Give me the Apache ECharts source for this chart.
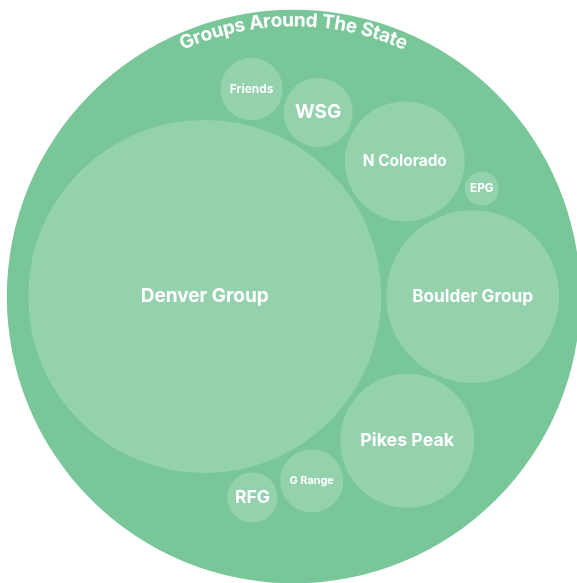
<!DOCTYPE html>
<html lang="en">
<head>
<meta charset="UTF-8">
<title>Groups Around The State</title>
<script src="https://cdn.jsdelivr.net/npm/echarts@6/dist/echarts.min.js"></script>
<style>
    * { margin: 0; padding: 0; }
    body { background: #fff; }
    #main { width: 577px; height: 583px; }
</style>
</head>
<body>
<div id="main"></div>
<script>
// data
var titleText = 'Groups Around The State';
var groupNames = ['Denver Group', 'Boulder Group', 'Pikes Peak', 'N Colorado', 'WSG', 'G Range', 'Friends', 'RFG', 'EPG'];
var groupValues = [1095, 262, 158, 126, 42, 35, 34, 22, 10];

// look
var FONT = 'Inter';
var OUTER_COLOR = '#79c799';
var INNER_COLOR = 'rgba(255,255,255,0.2)';
var CX = 293.6, CY = 296.5;       // centre of the big circle
var INNER_R = 265.4;              // enclosing radius of the groups
var OUTER_R = 286.8;              // radius of the big circle
var GAP = 5;                      // gap between group circles
var MAX_FONT = 19;
var TITLE_FONT = 19;
var TITLE_R = 276;
var TITLE_SPAN = 48.4 * Math.PI / 180;

var ctx = document.createElement('canvas').getContext('2d');
function textWidth(str, size) {
    ctx.font = 'bold ' + size + 'px ' + FONT;
    return ctx.measureText(str).width;
}

// ---- circle packing (front-chain, same as d3.pack) ----
function place(b, a, c) {
    var dx = b.x - a.x, dy = b.y - a.y, d2 = dx * dx + dy * dy, x, y, a2, b2;
    if (d2) {
        a2 = a.r + c.r; a2 *= a2;
        b2 = b.r + c.r; b2 *= b2;
        if (a2 > b2) {
            x = (d2 + b2 - a2) / (2 * d2);
            y = Math.sqrt(Math.max(0, b2 / d2 - x * x));
            c.x = b.x - x * dx - y * dy;
            c.y = b.y - x * dy + y * dx;
        } else {
            x = (d2 + a2 - b2) / (2 * d2);
            y = Math.sqrt(Math.max(0, a2 / d2 - x * x));
            c.x = a.x + x * dx - y * dy;
            c.y = a.y + x * dy + y * dx;
        }
    } else {
        c.x = a.x + c.r;
        c.y = a.y;
    }
}
function intersects(a, b) {
    var dr = a.r + b.r - 1e-6, dx = b.x - a.x, dy = b.y - a.y;
    return dr > 0 && dr * dr > dx * dx + dy * dy;
}
function score(node) {
    var a = node._, b = node.next._, ab = a.r + b.r,
        dx = (a.x * b.r + b.x * a.r) / ab,
        dy = (a.y * b.r + b.y * a.r) / ab;
    return dx * dx + dy * dy;
}
function Node(c) { this._ = c; this.next = null; this.previous = null; }

function enclosesNot(a, b) {
    var dr = a.r - b.r, dx = b.x - a.x, dy = b.y - a.y;
    return dr < 0 || dr * dr < dx * dx + dy * dy;
}
function enclosesWeak(a, b) {
    var dr = a.r - b.r + Math.max(a.r, b.r, 1) * 1e-9, dx = b.x - a.x, dy = b.y - a.y;
    return dr > 0 && dr * dr > dx * dx + dy * dy;
}
function enclosesWeakAll(a, B) {
    for (var i = 0; i < B.length; ++i) if (!enclosesWeak(a, B[i])) return false;
    return true;
}
function basis2(a, b) {
    var x21 = b.x - a.x, y21 = b.y - a.y, r21 = b.r - a.r, l = Math.sqrt(x21 * x21 + y21 * y21);
    return { x: (a.x + b.x + x21 / l * r21) / 2, y: (a.y + b.y + y21 / l * r21) / 2, r: (l + a.r + b.r) / 2 };
}
function basis3(a, b, c) {
    var x1 = a.x, y1 = a.y, r1 = a.r, x2 = b.x, y2 = b.y, r2 = b.r, x3 = c.x, y3 = c.y, r3 = c.r,
        a2 = x1 - x2, a3 = x1 - x3, b2 = y1 - y2, b3 = y1 - y3, c2 = r2 - r1, c3 = r3 - r1,
        d1 = x1 * x1 + y1 * y1 - r1 * r1,
        d2 = d1 - x2 * x2 - y2 * y2 + r2 * r2,
        d3 = d1 - x3 * x3 - y3 * y3 + r3 * r3,
        ab = a3 * b2 - a2 * b3,
        xa = (b2 * d3 - b3 * d2) / (ab * 2) - x1,
        xb = (b3 * c2 - b2 * c3) / ab,
        ya = (a3 * d2 - a2 * d3) / (ab * 2) - y1,
        yb = (a2 * c3 - a3 * c2) / ab,
        A = xb * xb + yb * yb - 1,
        B = 2 * (r1 + xa * xb + ya * yb),
        C = xa * xa + ya * ya - r1 * r1,
        r = -(Math.abs(A) > 1e-6 ? (B + Math.sqrt(B * B - 4 * A * C)) / (2 * A) : C / B);
    return { x: x1 + xa + xb * r, y: y1 + ya + yb * r, r: r };
}
function encloseBasis(B) {
    if (B.length === 1) return { x: B[0].x, y: B[0].y, r: B[0].r };
    if (B.length === 2) return basis2(B[0], B[1]);
    return basis3(B[0], B[1], B[2]);
}
function extendBasis(B, p) {
    var i, j;
    if (enclosesWeakAll(p, B)) return [p];
    for (i = 0; i < B.length; ++i) {
        if (enclosesNot(p, B[i]) && enclosesWeakAll(basis2(B[i], p), B)) return [B[i], p];
    }
    for (i = 0; i < B.length - 1; ++i) {
        for (j = i + 1; j < B.length; ++j) {
            if (enclosesNot(basis2(B[i], B[j]), p)
                && enclosesNot(basis2(B[i], p), B[j])
                && enclosesNot(basis2(B[j], p), B[i])
                && enclosesWeakAll(basis3(B[i], B[j], p), B)) return [B[i], B[j], p];
        }
    }
    return B;
}
function enclose(circles) {
    var i = 0, n = circles.length, B = [], p, e;
    while (i < n) {
        p = circles[i];
        if (e && enclosesWeak(e, p)) ++i;
        else e = encloseBasis(B = extendBasis(B, p)), i = 0;
    }
    return e;
}

function packSiblings(circles) {
    var n = circles.length, a, b, c, aa, ca, i, j, k, sj, sk;
    a = circles[0]; a.x = 0; a.y = 0;
    if (n < 2) return a.r;
    b = circles[1]; a.x = -b.r; b.x = a.r; b.y = 0;
    if (n < 3) return a.r + b.r;
    place(b, a, c = circles[2]);
    a = new Node(a); b = new Node(b); c = new Node(c);
    a.next = c.previous = b;
    b.next = a.previous = c;
    c.next = b.previous = a;
    pack: for (i = 3; i < n; ++i) {
        place(a._, b._, c = circles[i]); c = new Node(c);
        j = b.next; k = a.previous; sj = b._.r; sk = a._.r;
        do {
            if (sj <= sk) {
                if (intersects(j._, c._)) { b = j; a.next = b; b.previous = a; --i; continue pack; }
                sj += j._.r; j = j.next;
            } else {
                if (intersects(k._, c._)) { a = k; a.next = b; b.previous = a; --i; continue pack; }
                sk += k._.r; k = k.previous;
            }
        } while (j !== k.next);
        c.previous = a; c.next = b; a.next = b.previous = b = c;
        aa = score(a);
        while ((c = c.next) !== b) {
            if ((ca = score(c)) < aa) { a = c; aa = ca; }
        }
        b = a.next;
    }
    a = [b._]; c = b;
    while ((c = c.next) !== b) a.push(c._);
    c = enclose(a);
    for (i = 0; i < n; ++i) { circles[i].x -= c.x; circles[i].y -= c.y; }
    return c.r;
}

// ---- layout ----
var order = groupValues.map(function (v, i) { return i; })
    .sort(function (a, b) { return groupValues[b] - groupValues[a]; });

function packWithPad(pad) {
    var circles = order.map(function (i) { return { r: Math.sqrt(groupValues[i]) + pad }; });
    var e = packSiblings(circles);
    return { circles: circles, e: e };
}
var e0 = packWithPad(0).e;
var padL = GAP / (2 * INNER_R / e0);
var res = packWithPad(padL);
var k = INNER_R / (res.e - padL);

var leafData = res.circles.map(function (c, j) {
    return { name: groupNames[order[j]], value: [c.x * k, c.y * k, (c.r - padL) * k] };
});

var gridLeft = CX - OUTER_R, gridTop = CY - OUTER_R;
var gridW = 577 - gridLeft, gridH = 583 - gridTop;

var myChart = echarts.init(document.getElementById('main'), null, { renderer: 'canvas' });

var option = {
    animation: false,
    grid: { left: gridLeft, top: gridTop, width: gridW, height: gridH, outerBoundsMode: 'none', containLabel: false },
    xAxis: { type: 'value', show: false, min: -OUTER_R, max: -OUTER_R + gridW, splitLine: { show: false } },
    yAxis: { type: 'value', show: false, inverse: true, min: -OUTER_R, max: -OUTER_R + gridH, splitLine: { show: false } },
    series: [
        {
            name: 'root',
            type: 'custom',
            silent: true,
            z: 1,
            data: [{ name: titleText, value: [0, 0, OUTER_R] }],
            renderItem: function (params, api) {
                var p = api.coord([api.value(0), api.value(1)]);
                var r = api.size([api.value(2), 0])[0];
                var children = [{
                    type: 'circle',
                    shape: { cx: p[0], cy: p[1], r: r },
                    style: { fill: OUTER_COLOR }
                }];
                // title bent round the top
                var chars = titleText.split('');
                var widths = chars.map(function (ch) { return textWidth(ch, TITLE_FONT); });
                var total = widths.reduce(function (s, w) { return s + w; }, 0);
                var arc = TITLE_SPAN * TITLE_R;
                var spacing = (arc - total) / (chars.length - 1);
                var s = -arc / 2;
                chars.forEach(function (ch, i) {
                    var mid = s + widths[i] / 2;
                    var th = mid / TITLE_R;
                    children.push({
                        type: 'text',
                        x: p[0] + TITLE_R * Math.sin(th),
                        y: p[1] - TITLE_R * Math.cos(th),
                        rotation: -th,
                        style: {
                            text: ch,
                            fill: '#fff',
                            font: 'bold ' + TITLE_FONT + 'px ' + FONT,
                            align: 'center',
                            verticalAlign: 'middle'
                        }
                    });
                    s += widths[i] + spacing;
                });
                return { type: 'group', children: children };
            }
        },
        {
            name: 'groups',
            type: 'custom',
            silent: true,
            z: 2,
            data: leafData,
            renderItem: function (params, api) {
                var p = api.coord([api.value(0), api.value(1)]);
                var r = api.size([api.value(2), 0])[0];
                var name = leafData[params.dataIndex].name;
                var size = Math.min(MAX_FONT, 1.4 * r / textWidth(name, 1));
                return {
                    type: 'group',
                    children: [{
                        type: 'circle',
                        shape: { cx: p[0], cy: p[1], r: r },
                        style: { fill: INNER_COLOR }
                    }, {
                        type: 'text',
                        x: p[0],
                        y: p[1],
                        style: {
                            text: name,
                            fill: '#fff',
                            font: 'bold ' + size.toFixed(1) + 'px ' + FONT,
                            align: 'center',
                            verticalAlign: 'middle'
                        }
                    }]
                };
            }
        }
    ]
};
myChart.setOption(option);
</script>
</body>
</html>
